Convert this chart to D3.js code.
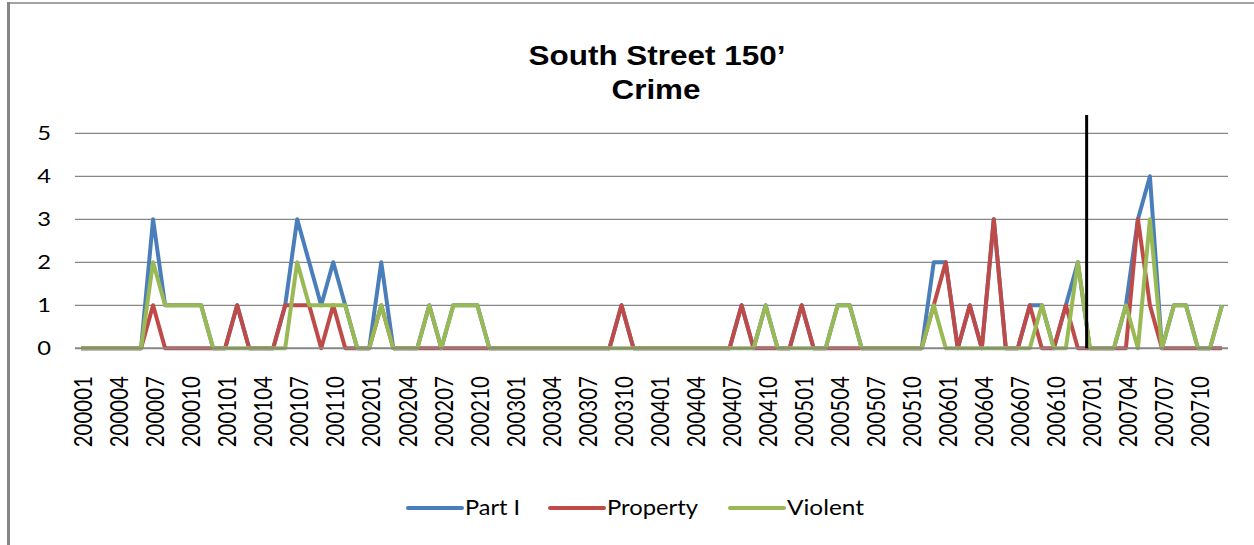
<!DOCTYPE html>
<html>
<head>
<meta charset="utf-8">
<title>South Street 150' Crime</title>
<script src="https://d3js.org/d3.v7.min.js"></script>
<style>
  body { margin: 0; background: #fff; }
  svg { display: block; }
</style>
</head>
<body>
<script>
// months 200001 .. 200712
const years = ["2000", "2001", "2002", "2003", "2004", "2005", "2006", "2007"];
const monthNums = ["01", "02", "03", "04", "05", "06", "07", "08", "09", "10", "11", "12"];
const months = years.flatMap(y => monthNums.map(m => y + m));

const partI = [
  0, 0, 0, 0, 0, 0, 3, 1, 1, 1, 1, 0,
  0, 1, 0, 0, 0, 1, 3, 2, 1, 2, 1, 0,
  0, 2, 0, 0, 0, 1, 0, 1, 1, 1, 0, 0,
  0, 0, 0, 0, 0, 0, 0, 0, 0, 1, 0, 0,
  0, 0, 0, 0, 0, 0, 0, 1, 0, 1, 0, 0,
  1, 0, 0, 1, 1, 0, 0, 0, 0, 0, 0, 2,
  2, 0, 1, 0, 3, 0, 0, 1, 1, 0, 1, 2,
  0, 0, 0, 1, 3, 4, 0, 1, 1, 0, 0, 1
];
const property = [
  0, 0, 0, 0, 0, 0, 1, 0, 0, 0, 0, 0,
  0, 1, 0, 0, 0, 1, 1, 1, 0, 1, 0, 0,
  0, 1, 0, 0, 0, 0, 0, 0, 0, 0, 0, 0,
  0, 0, 0, 0, 0, 0, 0, 0, 0, 1, 0, 0,
  0, 0, 0, 0, 0, 0, 0, 1, 0, 0, 0, 0,
  1, 0, 0, 0, 0, 0, 0, 0, 0, 0, 0, 1,
  2, 0, 1, 0, 3, 0, 0, 1, 0, 0, 1, 0,
  0, 0, 0, 0, 3, 1, 0, 0, 0, 0, 0, 0
];
const violent = [
  0, 0, 0, 0, 0, 0, 2, 1, 1, 1, 1, 0,
  0, 0, 0, 0, 0, 0, 2, 1, 1, 1, 1, 0,
  0, 1, 0, 0, 0, 1, 0, 1, 1, 1, 0, 0,
  0, 0, 0, 0, 0, 0, 0, 0, 0, 0, 0, 0,
  0, 0, 0, 0, 0, 0, 0, 0, 0, 1, 0, 0,
  0, 0, 0, 1, 1, 0, 0, 0, 0, 0, 0, 1,
  0, 0, 0, 0, 0, 0, 0, 0, 1, 0, 0, 2,
  0, 0, 0, 1, 0, 3, 0, 1, 1, 0, 0, 1
];

const seriesNames = ["Part I", "Property", "Violent"];
const seriesColors = ["#4A7EBB", "#BE4B48", "#98B954"];
const series = [partI, property, violent];

const yTicks = [0, 1, 2, 3, 4, 5];
const xTickLabels = months.filter((m, i) => i % 3 === 0);
// vertical marker drawn just before 200701
const markerMonth = "200701";
const markerOffset = -0.27;

const width = 1254;
const height = 545;
const plot = { left: 75, right: 1228, top: 133.3, bottom: 348.3 };

const svg = d3.select("body")
  .append("svg")
  .attr("width", width)
  .attr("height", height);

// frame
svg.append("rect").attr("x", 7).attr("y", 2).attr("width", 3).attr("height", height)
  .attr("fill", "#868686");
svg.append("line").attr("x1", 7).attr("x2", width).attr("y1", 3).attr("y2", 3)
  .attr("stroke", "#868686").attr("stroke-width", 1.5);

const x = d3.scalePoint()
  .domain(months)
  .range([plot.left, plot.right])
  .padding(0.5);

const y = d3.scaleLinear()
  .domain([0, 5])
  .range([plot.bottom, plot.top]);

// title
const title = svg.append("g")
  .attr("font-family", "'Liberation Sans', Arial, sans-serif")
  .attr("font-weight", "bold")
  .attr("font-size", 27)
  .attr("text-anchor", "middle");
title.append("text").attr("x", 657).attr("y", 65)
  .attr("textLength", 257).attr("lengthAdjust", "spacingAndGlyphs")
  .text("South Street 150\u2019");
title.append("text").attr("x", 656).attr("y", 99)
  .attr("textLength", 89).attr("lengthAdjust", "spacingAndGlyphs")
  .text("Crime");

// gridlines
svg.append("g").selectAll("line")
  .data(yTicks.filter(d => d > 0))
  .enter()
  .append("line")
  .attr("x1", plot.left).attr("x2", plot.right)
  .attr("y1", d => y(d)).attr("y2", d => y(d))
  .attr("stroke", "#868686")
  .attr("stroke-width", 1.3);

// y labels
svg.append("g").selectAll("text")
  .data(yTicks)
  .enter()
  .append("text")
  .attr("transform", d => `translate(51,${y(d)}) scale(1.25,1)`)
  .attr("dy", "0.36em")
  .attr("text-anchor", "end")
  .attr("font-family", "Lato, sans-serif")
  .attr("font-size", 19)
  .attr("fill", "#000")
  .text(d => d);

// x labels
svg.append("g").selectAll("text")
  .data(xTickLabels)
  .enter()
  .append("text")
  .attr("transform", d => `translate(${x(d) + 2.5},376) scale(1.18,1) rotate(-90)`)
  .attr("dy", "0.36em")
  .attr("text-anchor", "end")
  .attr("font-family", "Lato, sans-serif")
  .attr("font-size", 20.5)
  .attr("fill", "#000")
  .text(d => d);

// lines
const line = d3.line()
  .x((d, i) => x(months[i]))
  .y(d => y(d));

svg.append("g").selectAll("path")
  .data(series)
  .enter()
  .append("path")
  .attr("d", line)
  .attr("fill", "none")
  .attr("stroke", (d, i) => seriesColors[i])
  .attr("stroke-width", 4)
  .attr("stroke-linejoin", "round");

// zero axis
svg.append("line")
  .attr("x1", plot.left).attr("x2", plot.right)
  .attr("y1", y(0)).attr("y2", y(0))
  .attr("stroke", "#868686")
  .attr("stroke-width", 2);

// marker
const mx = x(markerMonth) + markerOffset * x.step();
svg.append("line")
  .attr("x1", mx).attr("x2", mx)
  .attr("y1", 115).attr("y2", y(0))
  .attr("stroke", "#000")
  .attr("stroke-width", 3);

// legend
const legendX = [408, 550, 730];
const legendTextW = [55, 91, 77];
const legend = svg.append("g").selectAll("g")
  .data(seriesNames)
  .enter()
  .append("g")
  .attr("transform", (d, i) => `translate(${legendX[i]},508)`);
legend.append("line")
  .attr("x1", 0).attr("x2", 54)
  .attr("stroke", (d, i) => seriesColors[i])
  .attr("stroke-width", 4)
  .attr("stroke-linecap", "round");
legend.append("text")
  .attr("x", 57).attr("y", 6.5)
  .attr("font-family", "Lato, sans-serif")
  .attr("font-size", 22)
  .attr("textLength", (d, i) => legendTextW[i])
  .attr("lengthAdjust", "spacingAndGlyphs")
  .text(d => d);
</script>
</body>
</html>
